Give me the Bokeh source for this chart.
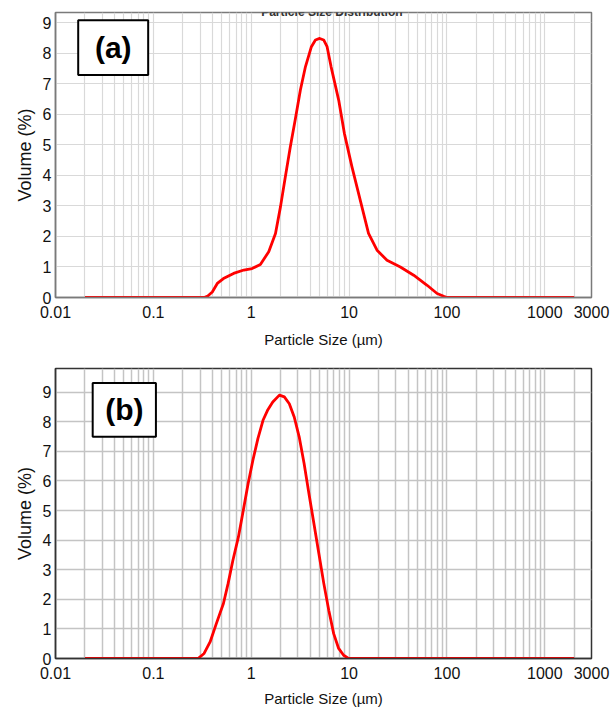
from bokeh.plotting import figure
from bokeh.layouts import column
from bokeh.models import FixedTicker, CustomJSTickFormatter, Label, BoxAnnotation, Range1d
from bokeh.embed import file_html
from bokeh.resources import INLINE

# ---- data ----
x_ticks = [0.01, 0.1, 1, 10, 100, 1000, 3000]
y_ticks = [0, 1, 2, 3, 4, 5, 6, 7, 8, 9]

size_a = [0.02, 0.33, 0.36, 0.40, 0.45, 0.52, 0.66, 0.84, 1.02, 1.24, 1.51, 1.77, 1.99,
          2.23, 2.51, 2.83, 3.18, 3.58, 4.12, 4.53, 5.01, 5.50, 5.96, 6.55, 7.83, 8.95,
          10.7, 13.0, 15.8, 19.3, 24.4, 33.4, 45.7, 62.7, 79.3, 92.7, 100, 2000]
vol_a = [0, 0, 0.05, 0.18, 0.46, 0.62, 0.79, 0.90, 0.95, 1.08, 1.50, 2.10, 2.97,
         3.95, 4.94, 5.87, 6.80, 7.56, 8.22, 8.44, 8.49, 8.44, 8.22, 7.56, 6.47, 5.38,
         4.28, 3.19, 2.10, 1.55, 1.22, 1.00, 0.73, 0.40, 0.13, 0.04, 0, 0]

size_b = [0.02, 0.286, 0.33, 0.38, 0.44, 0.52, 0.58, 0.65, 0.74, 0.83, 0.93, 1.04, 1.17,
          1.32, 1.48, 1.66, 1.94, 2.18, 2.45, 2.75, 3.09, 3.47, 3.89, 4.37, 4.91, 5.52,
          6.20, 6.96, 7.82, 8.79, 9.87, 2000]
vol_b = [0, 0, 0.17, 0.56, 1.18, 1.86, 2.53, 3.32, 4.11, 5.01, 5.91, 6.70, 7.43,
         8.05, 8.41, 8.67, 8.90, 8.84, 8.61, 8.16, 7.49, 6.59, 5.57, 4.56, 3.55, 2.53,
         1.63, 0.84, 0.34, 0.11, 0, 0]

minor_x = [m * 10.0 ** e for e in range(-2, 3) for m in range(2, 10)] + [2000]

FONT = "Liberation Sans"


def make_panel(sizes, vols, ymax, height, borders, grid_color, frame_color, grid_width,
               title_standoff):
    left, right, top, bottom = borders
    p = figure(x_axis_type="log", x_range=Range1d(0.01, 3000), y_range=Range1d(0, ymax),
               width=616, height=height, output_backend="svg", toolbar_location=None,
               min_border_left=left, min_border_right=right,
               min_border_top=top, min_border_bottom=bottom)
    p.xaxis.ticker = FixedTicker(ticks=x_ticks, minor_ticks=minor_x)
    p.xaxis.formatter = CustomJSTickFormatter(code="return tick.toString();")
    p.yaxis.ticker = FixedTicker(ticks=y_ticks)
    for ax in (p.xaxis[0], p.yaxis[0]):
        ax.major_tick_line_color = None
        ax.minor_tick_line_color = None
        ax.major_tick_out = 0
        ax.major_tick_in = 0
        ax.axis_line_color = frame_color
        ax.axis_line_width = 1.5
        ax.major_label_text_font = FONT
        ax.major_label_text_font_size = "16px"
        ax.major_label_text_color = "#111111"
        ax.axis_label_text_font = FONT
        ax.axis_label_text_font_style = "normal"
        ax.axis_label_text_color = "#111111"
    p.xaxis.major_label_standoff = 4
    p.yaxis.major_label_standoff = 4
    p.xaxis.axis_label = "Particle Size (µm)"
    p.xaxis.axis_label_text_font_size = "15px"
    p.xaxis.axis_label_standoff = title_standoff
    p.yaxis.axis_label = "Volume (%)"
    p.yaxis.axis_label_text_font_size = "18px"
    p.yaxis.axis_label_standoff = 5

    p.xgrid.grid_line_color = grid_color
    p.xgrid.grid_line_width = grid_width
    p.xgrid.minor_grid_line_color = grid_color
    p.xgrid.minor_grid_line_width = grid_width
    p.ygrid.grid_line_color = grid_color
    p.ygrid.grid_line_width = grid_width
    p.outline_line_color = frame_color
    p.outline_line_width = 1.5
    p.background_fill_color = "white"
    p.border_fill_color = "white"

    p.line(sizes, vols, line_color="#ff0000", line_width=2.8, line_join="round")
    return p


pa = make_panel(size_a, vol_a, 9.34, 352, (55, 25, 12, 55), "#d9d9d9", "#7a7a7a", 1.2, 10)
pb = make_panel(size_b, vol_b, 9.8, 357, (55, 18, 16, 51), "#c4c4c4", "#333333", 1.5, 8)

# chart title sitting on the top edge of panel (a)
pa.add_layout(Label(x=6.67, y=9.36, text="Particle Size Distribution", text_align="center",
                    text_baseline="alphabetic", text_font=FONT, text_font_style="bold",
                    text_font_size="12px", text_color="#333333"))

# panel letter boxes
pa.add_layout(BoxAnnotation(left=0.01706, right=0.0885, bottom=7.29, top=9.09,
                            fill_color="white", fill_alpha=1.0, line_color="black",
                            line_alpha=1.0, line_width=2))
pa.add_layout(Label(x=0.0389, y=8.19, text="(a)", text_align="center", text_baseline="middle",
                    text_font=FONT, text_font_style="bold", text_font_size="30px",
                    text_color="black"))
pb.add_layout(BoxAnnotation(left=0.02399, right=0.1062, bottom=7.49, top=9.31,
                            fill_color="white", fill_alpha=1.0, line_color="black",
                            line_alpha=1.0, line_width=2))
pb.add_layout(Label(x=0.0505, y=8.40, text="(b)", text_align="center", text_baseline="middle",
                    text_font=FONT, text_font_style="bold", text_font_size="30px",
                    text_color="black"))

layout = column(pa, pb, spacing=0)
open("out.html", "w").write(file_html(layout, INLINE))
